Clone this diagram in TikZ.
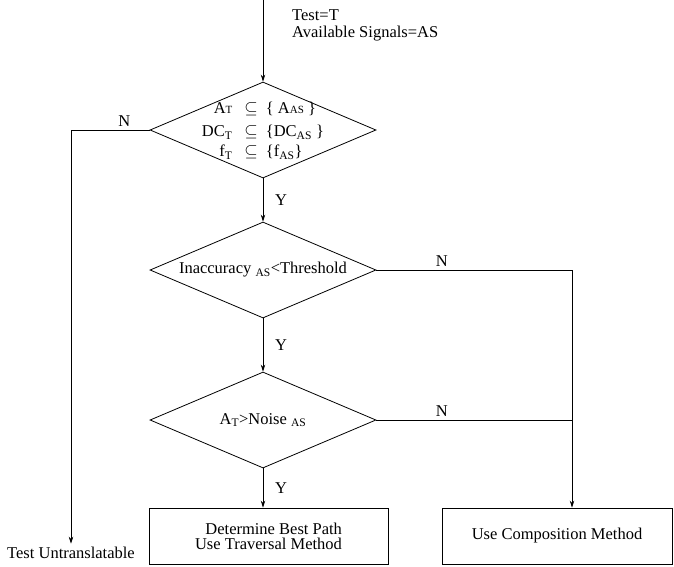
\documentclass[tikz,border=0pt]{standalone}
\usepackage{fontspec}
\setmainfont{Liberation Serif}
\usetikzlibrary{shapes.geometric,arrows.meta,positioning}

\tikzset{
  decision/.style={diamond,draw,line width=0.8pt,minimum width=226pt,minimum height=96pt,inner sep=0pt},
  action/.style={rectangle,draw,line width=0.8pt,minimum height=56pt},
  flow/.style={line width=0.8pt,-{Stealth[length=7pt,width=4.5pt]}},
  wire/.style={line width=0.8pt}
}

\begin{document}
\begin{tikzpicture}[x=1pt,y=-1pt,every node/.style={font=\fontsize{16.5}{20}\selectfont}]
\useasboundingbox (0,0) rectangle (674,566);

% Input
\coordinate (start) at (263,0);
\node[anchor=north west,align=left,inner sep=0pt,font=\fontsize{16.5}{17}\selectfont] (given) at (292,9) {Test=T\\Available Signals=AS};

% Decision diamonds
\node[decision] (d1) at (263,130) {};
\node at ([yshift=-1pt]d1) {\begin{tabular}{r@{\hspace{12pt}}c@{\hspace{8pt}}l}
  A{\fontsize{11}{11}\selectfont T} & $\subseteq$ & \{ A{\fontsize{11}{11}\selectfont AS} \}\\[3pt]
  DC\textsubscript{T} & $\subseteq$ & \{DC\textsubscript{AS} \}\\[0pt]
  f\textsubscript{T} & $\subseteq$ & \{f\textsubscript{AS}\}
\end{tabular}};
\node[decision] (d2) at (263,270) {};
\node at (d2) {Inaccuracy \textsubscript{AS}<Threshold};
\node[decision] (d3) at (263,420) {};
\node at (d3) {A\textsubscript{T}>Noise \textsubscript{AS}};

% Outcomes
\node[action,minimum width=239pt,align=right,font=\fontsize{16.5}{15}\selectfont] (traverse) at (268.5,536) {Determine Best Path\\Use Traversal Method};
\node[action,minimum width=230pt] (compose) at (557,536) {Use Composition Method};
\node (untr) at (71,553) {Test Untranslatable};
\coordinate (rj) at (572,270);

% Connectors
\draw[flow] (start) -- (d1.north);
\draw[flow] (d1.south) -- node[xshift=18pt] {Y} (d2.north);
\draw[flow] (d2.south) -- node[xshift=18pt] {Y} (d3.north);
\draw[flow] (d3.south) -- node[xshift=18pt] {Y} (traverse.north -| d3.south);
\draw[flow] (d1.west) -| node[above,pos=0.16] {N} (untr.north);
\draw[flow] (d2.east) -- node[above,pos=0.335] {N} (rj) -- (rj |- compose.north);
\draw[wire] (d3.east) -- node[above,pos=0.335] {N} (d3.east -| rj);
\end{tikzpicture}
\end{document}
